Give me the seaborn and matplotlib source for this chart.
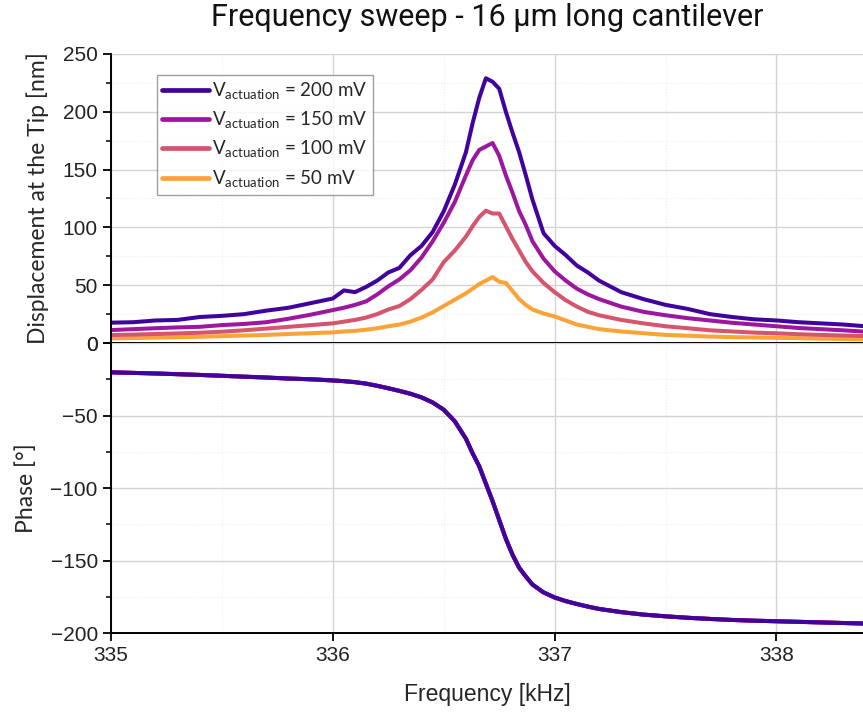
import seaborn as sns
import pandas as pd
import numpy as np
import matplotlib.pyplot as plt
import matplotlib.ticker as ticker

# frequency points [kHz]
freq = [335.00, 335.10, 335.20, 335.30, 335.40, 335.50, 335.60, 335.70, 335.80, 335.90,
        336.00, 336.05, 336.10, 336.15, 336.20, 336.25, 336.30, 336.35, 336.40, 336.45,
        336.50, 336.55, 336.60, 336.63, 336.66, 336.69, 336.72, 336.75, 336.78, 336.81,
        336.84, 336.87, 336.90, 336.95, 337.00, 337.05, 337.10, 337.15, 337.20, 337.30,
        337.40, 337.50, 337.60, 337.70, 337.80, 337.90, 338.00, 338.10, 338.20, 338.30,
        338.40]

# displacement at the tip [nm]
disp_200 = [17.6, 18.0, 19.5, 20.0, 22.5, 23.5, 25.0, 28.0, 30.5, 34.5,
            38.5, 45.5, 44.0, 48.5, 54.0, 61.0, 65.0, 76.0, 84.0, 96.0,
            114.0, 137.0, 165.0, 190.0, 212.0, 229.0, 226.0, 220.0, 200.0, 182.0,
            165.0, 145.0, 124.0, 95.0, 84.0, 76.0, 67.0, 61.0, 54.0, 44.0,
            38.0, 33.0, 29.5, 25.0, 22.5, 20.5, 19.5, 18.0, 17.0, 16.0,
            14.5]
disp_150 = [11.2, 12.0, 12.8, 13.5, 14.0, 15.5, 16.5, 18.0, 21.0, 24.5,
            28.5, 30.5, 33.0, 36.0, 42.0, 49.0, 55.0, 63.0, 74.0, 88.0,
            104.0, 122.0, 145.0, 158.0, 167.0, 170.0, 173.0, 162.0, 145.0, 130.0,
            114.0, 102.0, 88.0, 73.0, 62.0, 54.0, 47.0, 42.0, 38.0, 31.5,
            27.0, 24.0, 21.5, 19.5, 17.5, 16.0, 14.5, 13.0, 12.0, 11.0,
            9.8]
disp_100 = [6.9, 7.3, 7.8, 8.3, 8.9, 9.8, 11.0, 12.5, 14.0, 15.5,
            17.0, 18.5, 20.0, 22.0, 25.0, 29.0, 32.0, 38.0, 46.0, 55.0,
            70.0, 80.0, 92.0, 101.0, 109.0, 114.5, 112.0, 112.0, 101.0, 90.0,
            80.0, 70.0, 62.0, 52.0, 44.0, 37.0, 31.5, 27.0, 24.0, 20.0,
            17.0, 14.5, 12.8, 11.0, 10.0, 9.0, 8.4, 7.6, 7.0, 6.5,
            6.0]
disp_50 = [4.0, 4.3, 4.7, 5.0, 5.4, 6.0, 6.5, 7.0, 7.8, 8.5,
           9.2, 10.0, 10.5, 11.5, 12.8, 14.5, 16.0, 18.5, 22.0, 26.5,
           32.0, 37.5, 43.0, 47.0, 51.0, 54.0, 57.0, 53.0, 52.0, 45.0,
           38.0, 33.0, 29.0, 25.5, 23.0, 19.5, 16.0, 14.0, 12.0, 10.0,
           8.5, 7.0, 6.3, 5.6, 5.1, 4.8, 4.5, 4.2, 3.8, 3.5,
           3.2]

# phase [deg], the four curves lie on top of each other
phase = [-20.2, -20.6, -21.0, -21.5, -22.0, -22.6, -23.2, -23.8, -24.5, -25.0,
         -25.8, -26.3, -27.0, -28.0, -29.5, -31.2, -33.0, -35.0, -37.5, -41.0,
         -46.0, -54.0, -66.0, -76.0, -85.0, -97.0, -109.0, -122.0, -135.0, -146.0,
         -155.0, -161.0, -166.6, -172.0, -175.5, -178.0, -180.0, -181.8, -183.4, -185.6,
         -187.3, -188.5, -189.5, -190.3, -191.0, -191.5, -191.9, -192.3, -192.7, -193.1,
         -193.5]

voltages = ['50', '100', '150', '200']
disp = {'50': disp_50, '100': disp_100, '150': disp_150, '200': disp_200}
colors = {'200': '#40049d', '150': '#9c179e', '100': '#d5546e', '50': '#fca338'}

rows = []
for v in voltages:
    for f, d, p in zip(freq, disp[v], phase):
        rows.append([v, f, d, p])
df = pd.DataFrame(rows, columns=['voltage', 'freq', 'disp', 'phase'])

sns.set_theme(style='white')
narrow = ['Liberation Sans', 'DejaVu Sans']
wide = ['Lato', 'DejaVu Sans']
plt.rcParams['font.family'] = narrow

fig = plt.figure(figsize=(8.63, 7.13), dpi=100)
ax_top = fig.add_axes([0.1286, 0.5189, 0.8714, 0.4054])
ax_bot = fig.add_axes([0.1286, 0.1122, 0.8714, 0.4067], sharex=ax_top)

sns.lineplot(data=df, x='freq', y='disp', hue='voltage', hue_order=voltages,
             palette=colors, linewidth=2.9, ax=ax_top)
sns.lineplot(data=df, x='freq', y='phase', hue='voltage', hue_order=voltages,
             palette=colors, linewidth=2.9, ax=ax_bot, legend=False)

ax_top.set_ylim(0, 250)
ax_bot.set_ylim(-200, 0)
ax_bot.set_xlim(335, 338.39)
ax_bot.set_xticks([335, 336, 337, 338])

for ax in (ax_top, ax_bot):
    ax.yaxis.set_minor_locator(ticker.AutoMinorLocator(2))
    ax.xaxis.set_minor_locator(ticker.AutoMinorLocator(2))
    ax.grid(which='major', color='#d4d4d4', linewidth=1.0)
    ax.grid(which='minor', color='#eeeeee', linewidth=0.8, linestyle=':')
    ax.set_axisbelow(True)
    for s in ('top', 'right'):
        ax.spines[s].set_visible(False)
    for s in ('left', 'bottom'):
        ax.spines[s].set_color('black')
        ax.spines[s].set_linewidth(1.4)
    ax.tick_params(which='major', direction='out', length=6, width=1.3,
                   color='black', labelsize=15, labelcolor='#222222',
                   left=True, bottom=True)
    ax.tick_params(which='minor', direction='out', length=3.5, width=1.1,
                   color='black', left=True, bottom=False)

ax_top.tick_params(axis='x', labelbottom=False)
ax_top.set_xlabel('')
ax_bot.set_xlabel('Frequency [kHz]', fontsize=16.5, labelpad=13)
ax_top.set_ylabel('Displacement at the Tip [nm]', fontsize=16.5, family=wide, labelpad=10)
ax_bot.set_ylabel('Phase [°]', fontsize=16.5, family=wide, labelpad=10)
fig.align_ylabels([ax_top, ax_bot])

handles, labels = ax_top.get_legend_handles_labels()
order = [labels.index(v) for v in ['200', '150', '100', '50']]
leg = ax_top.legend([handles[i] for i in order],
                    ['V$_{\\mathregular{actuation}}$ = %s mV' % labels[i] for i in order],
                    loc='upper left', bbox_to_anchor=(0.061, 0.927), borderaxespad=0,
                    handlelength=2.5, handletextpad=0.15, borderpad=0.3, labelspacing=0.42,
                    frameon=True, fancybox=False, edgecolor='#888888',
                    prop={'family': wide, 'size': 13.5})
leg.get_frame().set_linewidth(1.0)
for line in leg.get_lines():
    line.set_linewidth(3.4)

fig.text(0.565, 0.976, 'Frequency sweep - 16 \u03bcm long cantilever',
         ha='center', va='center', fontsize=22, family=['Roboto', 'DejaVu Sans'],
         color='#111111')

fig.savefig('out.png', dpi=100)
